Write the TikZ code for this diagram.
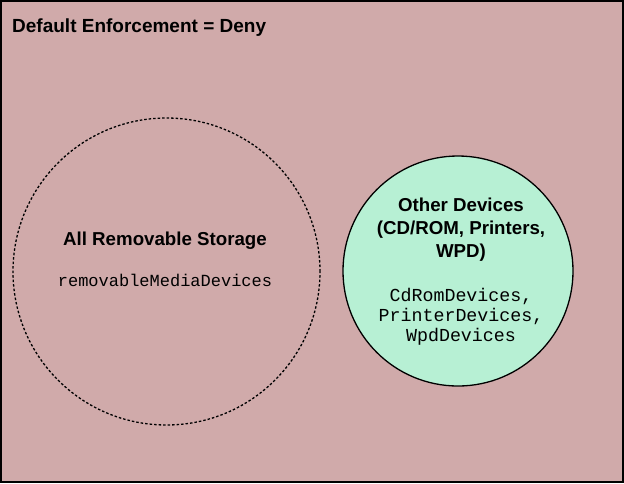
\documentclass[tikz,border=0pt]{standalone}
\usepackage{fontspec}
\setmainfont{Liberation Sans}
\setmonofont{Liberation Mono}
\usetikzlibrary{positioning}
\definecolor{denybg}{RGB}{208,170,170}
\definecolor{othergreen}{RGB}{183,240,212}

\begin{document}
\begin{tikzpicture}[x=1pt,y=-1pt,
  heading/.style={font=\bfseries\fontsize{18.7}{23}\selectfont, align=center, inner sep=0pt},
  code/.style={font=\ttfamily\fontsize{17}{20}\selectfont, align=center, inner sep=0pt},
  group/.style={circle, draw, line width=1.3pt, inner sep=0pt}]
  \useasboundingbox (0,0) rectangle (624,483);
  \draw[fill=denybg, line width=2pt] (1,1) rectangle (623,482);
  \node[anchor=base west, font=\bfseries\fontsize{19}{22}\selectfont, inner sep=0pt] (title) at (12,32) {Default Enforcement = Deny};
  % removable storage
  \node[group, dash pattern=on 2.5pt off 2pt, minimum size=307pt] (storage) at (166.5,271.5) {};
  \node[heading, anchor=base] (storagelabel) at (165,245) {All Removable Storage};
  \node[code, anchor=base] (storagecode) at (165,286) {removableMediaDevices};
  % other devices
  \node[group, fill=othergreen, minimum size=230pt] (other) at (458,271) {};
  \node[heading, anchor=north] (otherlabel) at (461,198) {Other Devices\\(CD/ROM, Printers,\\WPD)};
  \node[code, font=\ttfamily\fontsize{18.3}{20}\selectfont, anchor=north] (othercode) at (461,288) {CdRomDevices,\\PrinterDevices,\\WpdDevices};
\end{tikzpicture}
\end{document}
